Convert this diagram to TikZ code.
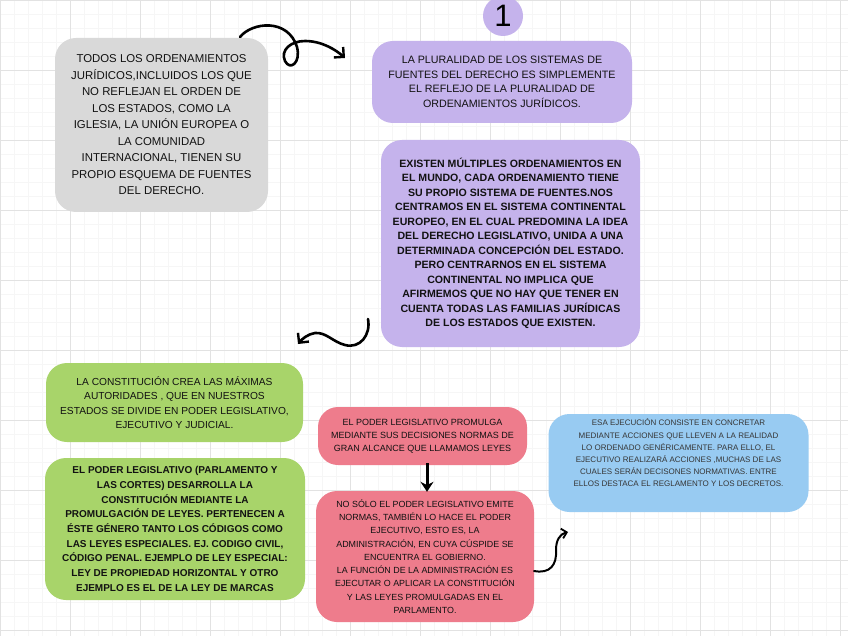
\documentclass[tikz,border=0pt]{standalone}
\usepackage{fontspec}
\setmainfont{Liberation Sans}
\usetikzlibrary{arrows.meta}
\definecolor{grayfill}{RGB}{217,217,217}
\definecolor{lav}{RGB}{197,179,236}
\definecolor{grn}{RGB}{168,212,106}
\definecolor{pnk}{RGB}{238,124,140}
\definecolor{blu}{RGB}{152,203,242}
\definecolor{ink}{RGB}{18,18,18}
\definecolor{gridc}{RGB}{226,226,226}
\begin{document}
\begin{tikzpicture}[x=1pt,y=-1pt,
  card/.style={rounded corners=21pt, inner sep=0pt, align=center, text=ink},
  hand/.style={line width=2.6pt, line cap=round, line join=round,
    -{Straight Barb[length=7pt,width=14pt,line width=2.4pt]}}]
\useasboundingbox (0,0) rectangle (848,636);
\fill[white] (0,0) rectangle (848,636);
\foreach \gx in {0,14,...,848} \draw[gridc!30, line width=0.4pt] (\gx,0) -- (\gx,636);
\foreach \gy in {0,14,...,636} \draw[gridc!30, line width=0.4pt] (0,\gy) -- (848,\gy);
\foreach \gx in {0,70,...,848} \draw[gridc, line width=0.7pt] (\gx,0) -- (\gx,636);
\foreach \gy in {0,70,...,636} \draw[gridc, line width=0.7pt] (0,\gy) -- (848,\gy);

\node[card, fill=grayfill, minimum width=213pt, minimum height=174pt,
  font=\fontsize{11.4}{16.5}\selectfont] (gray) at (161.5,125)
 {TODOS LOS ORDENAMIENTOS\\ JURÍDICOS,INCLUIDOS LOS QUE\\ NO REFLEJAN EL ORDEN DE\\ LOS ESTADOS, COMO LA\\ IGLESIA, LA UNIÓN EUROPEA O\\ LA COMUNIDAD\\ INTERNACIONAL, TIENEN SU\\ PROPIO ESQUEMA DE FUENTES\\ DEL DERECHO.};

\node[circle, fill=lav, minimum size=40pt, inner sep=0pt,
  font=\fontsize{31}{31}\selectfont, text=black] (one) at (503,16) {1};

\node[card, fill=lav, minimum width=260pt, minimum height=82pt,
  font=\fontsize{10.7}{14.6}\selectfont] (p1) at (502,82)
 {LA PLURALIDAD DE LOS SISTEMAS DE\\ FUENTES DEL DERECHO ES SIMPLEMENTE\\ EL REFLEJO DE LA PLURALIDAD DE\\ ORDENAMIENTOS JURÍDICOS.};

\node[card, fill=lav, minimum width=259pt, minimum height=207pt,
  font=\bfseries\fontsize{10.6}{14.5}\selectfont] (p2) at (510.5,243.5)
 {EXISTEN MÚLTIPLES ORDENAMIENTOS EN\\ EL MUNDO, CADA ORDENAMIENTO TIENE\\ SU PROPIO SISTEMA DE FUENTES.NOS\\ CENTRAMOS EN EL SISTEMA CONTINENTAL\\ EUROPEO, EN EL CUAL PREDOMINA LA IDEA\\ DEL DERECHO LEGISLATIVO, UNIDA A UNA\\ DETERMINADA CONCEPCIÓN DEL ESTADO.\\ PERO CENTRARNOS EN EL SISTEMA\\ CONTINENTAL NO IMPLICA QUE\\ AFIRMEMOS QUE NO HAY QUE TENER EN\\ CUENTA TODAS LAS FAMILIAS JURÍDICAS\\ DE LOS ESTADOS QUE EXISTEN.};

\node[card, fill=grn, minimum width=257pt, minimum height=79pt,
  font=\fontsize{10.2}{14.3}\selectfont] (g1) at (174.5,402.5)
 {LA CONSTITUCIÓN CREA LAS MÁXIMAS\\ AUTORIDADES , QUE EN NUESTROS\\ ESTADOS SE DIVIDE EN PODER LEGISLATIVO,\\ EJECUTIVO Y JUDICIAL.};

\node[card, fill=grn, minimum width=260pt, minimum height=142pt,
  font=\bfseries\fontsize{10}{14.7}\selectfont] (g2) at (175,529)
 {EL PODER LEGISLATIVO (PARLAMENTO Y\\ LAS CORTES) DESARROLLA LA\\ CONSTITUCIÓN MEDIANTE LA\\ PROMULGACIÓN DE LEYES. PERTENECEN A\\ ÉSTE GÉNERO TANTO LOS CÓDIGOS COMO\\ LAS LEYES ESPECIALES. EJ. CODIGO CIVIL,\\ CÓDIGO PENAL. EJEMPLO DE LEY ESPECIAL:\\ LEY DE PROPIEDAD HORIZONTAL Y OTRO\\ EJEMPLO ES EL DE LA LEY DE MARCAS};

\node[card, rounded corners=20pt, fill=pnk, minimum width=209pt, minimum height=58pt,
  font=\fontsize{9}{13}\selectfont] (k1) at (422.5,436)
 {EL PODER LEGISLATIVO PROMULGA\\ MEDIANTE SUS DECISIONES NORMAS DE\\ GRAN ALCANCE QUE LLAMAMOS LEYES};

\node[card, fill=pnk, minimum width=218pt, minimum height=131pt,
  font=\fontsize{8.9}{13.3}\selectfont] (k2) at (425,556.5)
 {NO SÓLO EL PODER LEGISLATIVO EMITE\\ NORMAS, TAMBIÉN LO HACE EL PODER\\ EJECUTIVO, ESTO ES, LA\\ ADMINISTRACIÓN, EN CUYA CÚSPIDE SE\\ ENCUENTRA EL GOBIERNO.\\ LA FUNCIÓN DE LA ADMINISTRACIÓN ES\\ EJECUTAR O APLICAR LA CONSTITUCIÓN\\ Y LAS LEYES PROMULGADAS EN EL\\ PARLAMENTO.};

\node[card, fill=blu, minimum width=260pt, minimum height=98pt, text=ink!85,
  font=\fontsize{8}{12.2}\selectfont] (b1) at (678.5,463)
 {ESA EJECUCIÓN CONSISTE EN CONCRETAR\\ MEDIANTE ACCIONES QUE LLEVEN A LA REALIDAD\\ LO ORDENADO GENÉRICAMENTE. PARA ELLO, EL\\ EJECUTIVO REALIZARÁ ACCIONES ,MUCHAS DE LAS\\ CUALES SERÁN DECISONES NORMATIVAS. ENTRE\\ ELLOS DESTACA EL REGLAMENTO Y LOS DECRETOS.\\[8pt]\mbox{}};

% connector anchors
\coordinate (a1s) at (240,37);
\coordinate (a1e) at (345,58);
\coordinate (a2s) at (368,319);
\coordinate (a2e) at (298,344);
\coordinate (a4s) at (534,571);
\coordinate (a4e) at (568,532);

\draw[hand] (a1s) .. controls (252,22) and (288,18) .. (297,47)
  .. controls (301,63) and (290,71) .. (285,61)
  .. controls (280,50) and (291,41) .. (305,41)
  .. controls (322,41) and (336,50) .. (a1e);
\draw[hand] (a2s) .. controls (371,335) and (360,349) .. (345,345)
  .. controls (333,342) and (326,332) .. (315,333)
  .. controls (308,334) and (302,339) .. (a2e);
\draw[line width=3pt, -{Stealth[length=10pt,width=13pt]}] (k1.south -| 427,0) ++(0,-2) -- ([yshift=-1pt]k2.north -| 427,0);
\draw[line width=2pt, line cap=round,
  -{Straight Barb[length=5pt,width=10pt,line width=1.8pt]}]
  (a4s) .. controls (550,574) and (557,565) .. (556,550)
  .. controls (556,540) and (560,534) .. (a4e);
\end{tikzpicture}
\end{document}
